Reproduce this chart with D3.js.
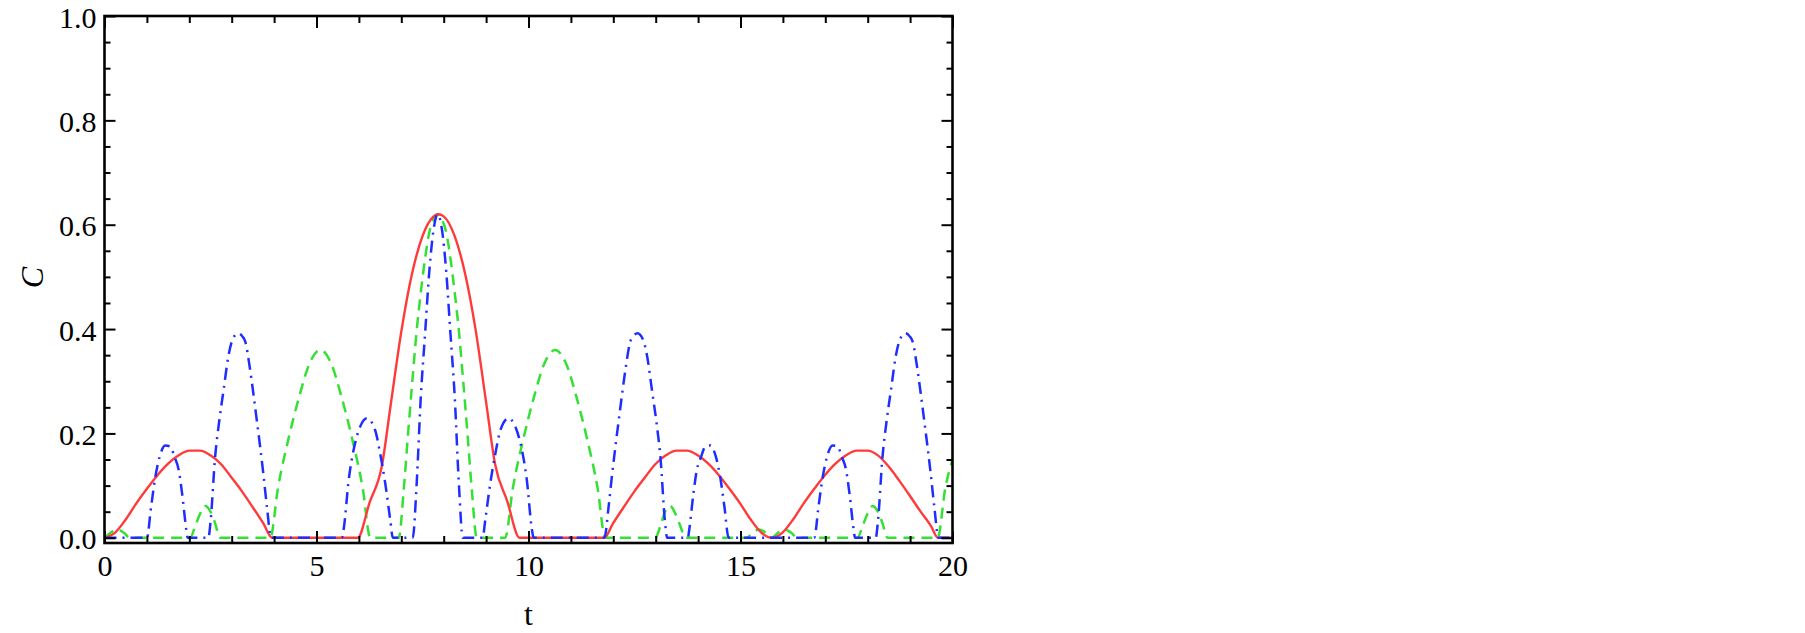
<!DOCTYPE html>
<html>
<head>
<meta charset="utf-8">
<script src="https://cdn.jsdelivr.net/npm/d3@7/dist/d3.min.js"></script>
<style>
  html, body { margin: 0; padding: 0; background: #fff; }
  svg { display: block; }
  text { font-family: "Liberation Serif", "Times New Roman", serif; fill: #000; }
</style>
</head>
<body>
<svg id="chart" width="1805" height="633"></svg>
<script>
// ---- data ----
const tRed = [0,0.25,0.5,0.75,1.0,1.25,1.5,1.75,2.0,2.25,2.5,2.75,3.0,3.25,3.5,3.75,3.95,
  5.97,6.25,6.54,6.75,7.0,7.25,7.5,7.75,7.87,8.0,8.25,8.5,8.75,9.0,9.21,9.5,9.79,
  11.79,11.99,12.24,12.49,12.74,12.99,13.24,13.49,13.74,13.99,14.24,14.49,14.74,14.99,15.24,15.49,15.74,
  15.99,16.24,16.49,16.74,16.99,17.24,17.49,17.74,17.99,18.24,18.49,18.74,18.99,19.24,19.49,19.66,20];
const cRed = [0,0.01,0.035,0.066,0.094,0.12,0.142,0.158,0.167,0.167,0.158,0.141,0.115,0.088,0.058,0.027,0,
  0,0.067,0.137,0.255,0.395,0.505,0.578,0.615,0.62,0.616,0.58,0.508,0.40,0.26,0.142,0.07,0,
  0,0.027,0.058,0.088,0.115,0.141,0.158,0.167,0.167,0.158,0.142,0.12,0.094,0.066,0.035,0.01,0,
  0.01,0.035,0.066,0.094,0.12,0.142,0.158,0.167,0.167,0.158,0.137,0.11,0.081,0.051,0.023,0,0];

const tGreen = [0,0.15,0.3,0.45,0.6, 2.02,2.15,2.25,2.38,2.5,2.6,2.73,
  3.91,4.09,4.34,4.59,4.84,5.09,5.34,5.59,5.84,6.09,6.27,
  6.94,7.06,7.16,7.26,7.36,7.46,7.56,7.66,7.76,7.86,7.96,8.06,8.16,8.26,8.36,8.46,8.56,8.66,8.78,
  9.45,9.63,9.88,10.13,10.38,10.63,10.88,11.13,11.38,11.63,11.81,
  12.99,13.12,13.22,13.34,13.47,13.57,13.7,
  15.14,15.29,15.44,15.59,15.74,15.89,16.04,16.19,16.34,
  17.76,17.89,17.99,18.12,18.24,18.34,18.47,
  19.65,19.83,20];
const cGreen = [0,0.01,0.016,0.01,0, 0,0.025,0.045,0.061,0.05,0.03,0,
  0,0.095,0.19,0.27,0.335,0.36,0.335,0.27,0.19,0.095,0,
  0,0.095,0.20,0.30,0.395,0.47,0.535,0.585,0.61,0.62,0.61,0.585,0.535,0.47,0.395,0.30,0.20,0.095,0,
  0,0.095,0.19,0.27,0.335,0.36,0.335,0.27,0.19,0.095,0,
  0,0.025,0.05,0.061,0.045,0.025,0,
  0,0.01,0.016,0.01,0,0.01,0.016,0.01,0,
  0,0.025,0.045,0.061,0.05,0.03,0,
  0,0.095,0.15];

const tBlue = [0,1.0,1.1,1.2,1.3,1.43,1.55,1.65,1.75,1.83,1.93,1.96,
  2.45,2.5,2.61,2.7,2.81,2.92,3.02,3.15,3.25,3.32,3.42,3.51,3.6,3.67,3.75,3.83,3.93,
  5.6,5.64,5.76,5.91,6.03,6.19,6.38,6.5,6.62,6.74,6.8,
  7.27,7.36,7.46,7.56,7.66,7.76,7.86,7.96,8.06,8.16,8.26,8.36,8.45,
  8.92,8.98,9.1,9.22,9.34,9.53,9.69,9.81,9.96,10.08,10.12,
  11.79,11.89,11.97,12.05,12.12,12.21,12.3,12.4,12.47,12.57,12.7,12.8,12.91,13.02,13.11,13.22,13.27,
  13.76,13.79,13.89,13.97,14.07,14.17,14.29,14.42,14.52,14.62,14.72,
  16.74,16.84,16.94,17.04,17.17,17.29,17.39,17.49,17.57,17.67,17.7,
  18.19,18.24,18.35,18.44,18.55,18.66,18.76,18.89,18.99,19.06,19.16,19.25,19.34,19.41,19.49,19.57,19.67,20];
const cBlue = [0,0,0.06,0.117,0.155,0.177,0.175,0.155,0.13,0.085,0.015,0,
  0,0.03,0.156,0.22,0.284,0.347,0.38,0.392,0.386,0.376,0.33,0.277,0.22,0.175,0.12,0.06,0,
  0,0.016,0.111,0.181,0.213,0.229,0.207,0.162,0.105,0.034,0,
  0,0.10,0.27,0.39,0.51,0.59,0.62,0.59,0.51,0.39,0.27,0.10,0,
  0,0.034,0.105,0.162,0.207,0.229,0.213,0.181,0.111,0.016,0,
  0,0.06,0.12,0.175,0.22,0.277,0.33,0.376,0.386,0.392,0.38,0.347,0.284,0.22,0.156,0.03,0,
  0,0.015,0.085,0.13,0.155,0.175,0.177,0.155,0.117,0.06,0,
  0,0.06,0.117,0.155,0.177,0.175,0.155,0.13,0.085,0.015,0,
  0,0.03,0.156,0.22,0.284,0.347,0.38,0.392,0.386,0.376,0.33,0.277,0.22,0.175,0.12,0.06,0,0];

const xMajorTicks = [0, 5, 10, 15, 20];
const xTickLabels = ["0", "5", "10", "15", "20"];
const yMajorTicks = [0, 0.2, 0.4, 0.6, 0.8, 1.0];
const yTickLabels = ["0.0", "0.2", "0.4", "0.6", "0.8", "1.0"];
const xLabel = "t";
const yLabel = "C";

// ---- layout ----
const L = 104.5, R = 952.5, T = 16, B = 543;
const svg = d3.select("#chart");
const x = d3.scaleLinear().domain([0, 20]).range([L, R]);
const y = d3.scaleLinear().domain([-0.01, 1]).range([B, T]);

const xMinor = d3.range(0, 20.001, 1).filter(v => v % 5 !== 0);
const yMinor = d3.range(0, 1.0001, 0.05).map(v => +v.toFixed(2)).filter(v => Math.round(v * 100) % 20 !== 0);

// clip
svg.append("defs").append("clipPath").attr("id", "clip")
  .append("rect").attr("x", L).attr("y", T).attr("width", R - L).attr("height", B - T);

// series (green under red under blue)
const series = [
  { t: tGreen, c: cGreen, color: "#35e035", dash: "11,7", w: 2.5 },
  { t: tRed,   c: cRed,   color: "#ff3a3a", dash: null,   w: 2.4 },
  { t: tBlue,  c: cBlue,  color: "#1f2dff", dash: "12,6,2,6", w: 2.5 }
];
const line = d3.line().x(d => x(d[0])).y(d => y(d[1])).curve(d3.curveMonotoneX);
const g = svg.append("g").attr("clip-path", "url(#clip)");
series.forEach(s => {
  const pts = s.t.map((t, i) => [t, s.c[i]]);
  g.append("path").datum(pts)
    .attr("d", line)
    .attr("fill", "none")
    .attr("stroke", s.color)
    .attr("stroke-width", s.w)
    .attr("stroke-dasharray", s.dash)
    .attr("stroke-linejoin", "round");
});

// axes with inward ticks
function styleAxis(sel) {
  sel.select(".domain").remove();
  sel.selectAll("line").attr("stroke", "#000").attr("stroke-width", 2);
}
// left
const gl = svg.append("g").attr("transform", `translate(${L},0)`)
  .call(d3.axisLeft(y).tickValues(yMajorTicks).tickSize(-11).tickPadding(8)
        .tickFormat((d, i) => yTickLabels[i]));
styleAxis(gl);
gl.selectAll("text").attr("font-size", 30).attr("dy", 0).attr("y", 11)
  .attr("font-family", "Liberation Serif, Times New Roman, serif");
svg.append("g").attr("transform", `translate(${L},0)`)
  .call(d3.axisLeft(y).tickValues(yMinor).tickSize(-6).tickFormat("")).call(styleAxis);
// right
svg.append("g").attr("transform", `translate(${R},0)`)
  .call(d3.axisRight(y).tickValues(yMajorTicks).tickSize(-11).tickFormat("")).call(styleAxis);
svg.append("g").attr("transform", `translate(${R},0)`)
  .call(d3.axisRight(y).tickValues(yMinor).tickSize(-6).tickFormat("")).call(styleAxis);
// bottom
const gb = svg.append("g").attr("transform", `translate(0,${B})`)
  .call(d3.axisBottom(x).tickValues(xMajorTicks).tickSize(-12)
        .tickFormat((d, i) => xTickLabels[i]));
styleAxis(gb);
gb.selectAll("text").attr("y", 33).attr("dy", 0).attr("font-size", 30)
  .attr("font-family", "Liberation Serif, Times New Roman, serif");
svg.append("g").attr("transform", `translate(0,${B})`)
  .call(d3.axisBottom(x).tickValues(xMinor).tickSize(-7).tickFormat("")).call(styleAxis);
// top
svg.append("g").attr("transform", `translate(0,${T})`)
  .call(d3.axisTop(x).tickValues(xMajorTicks).tickSize(-12).tickFormat("")).call(styleAxis);
svg.append("g").attr("transform", `translate(0,${T})`)
  .call(d3.axisTop(x).tickValues(xMinor).tickSize(-7).tickFormat("")).call(styleAxis);

// frame
svg.append("rect").attr("x", L).attr("y", T).attr("width", R - L).attr("height", B - T)
  .attr("fill", "none").attr("stroke", "#000").attr("stroke-width", 2.6);

// axis labels
svg.append("text").attr("x", x(10)).attr("y", 625).attr("text-anchor", "middle")
  .attr("font-size", 32).text(xLabel);
svg.append("text").attr("transform", `translate(43,${(T + B) / 2 - 2}) rotate(-90)`)
  .attr("text-anchor", "middle").attr("font-size", 32).attr("font-style", "italic").text(yLabel);
</script>
</body>
</html>
